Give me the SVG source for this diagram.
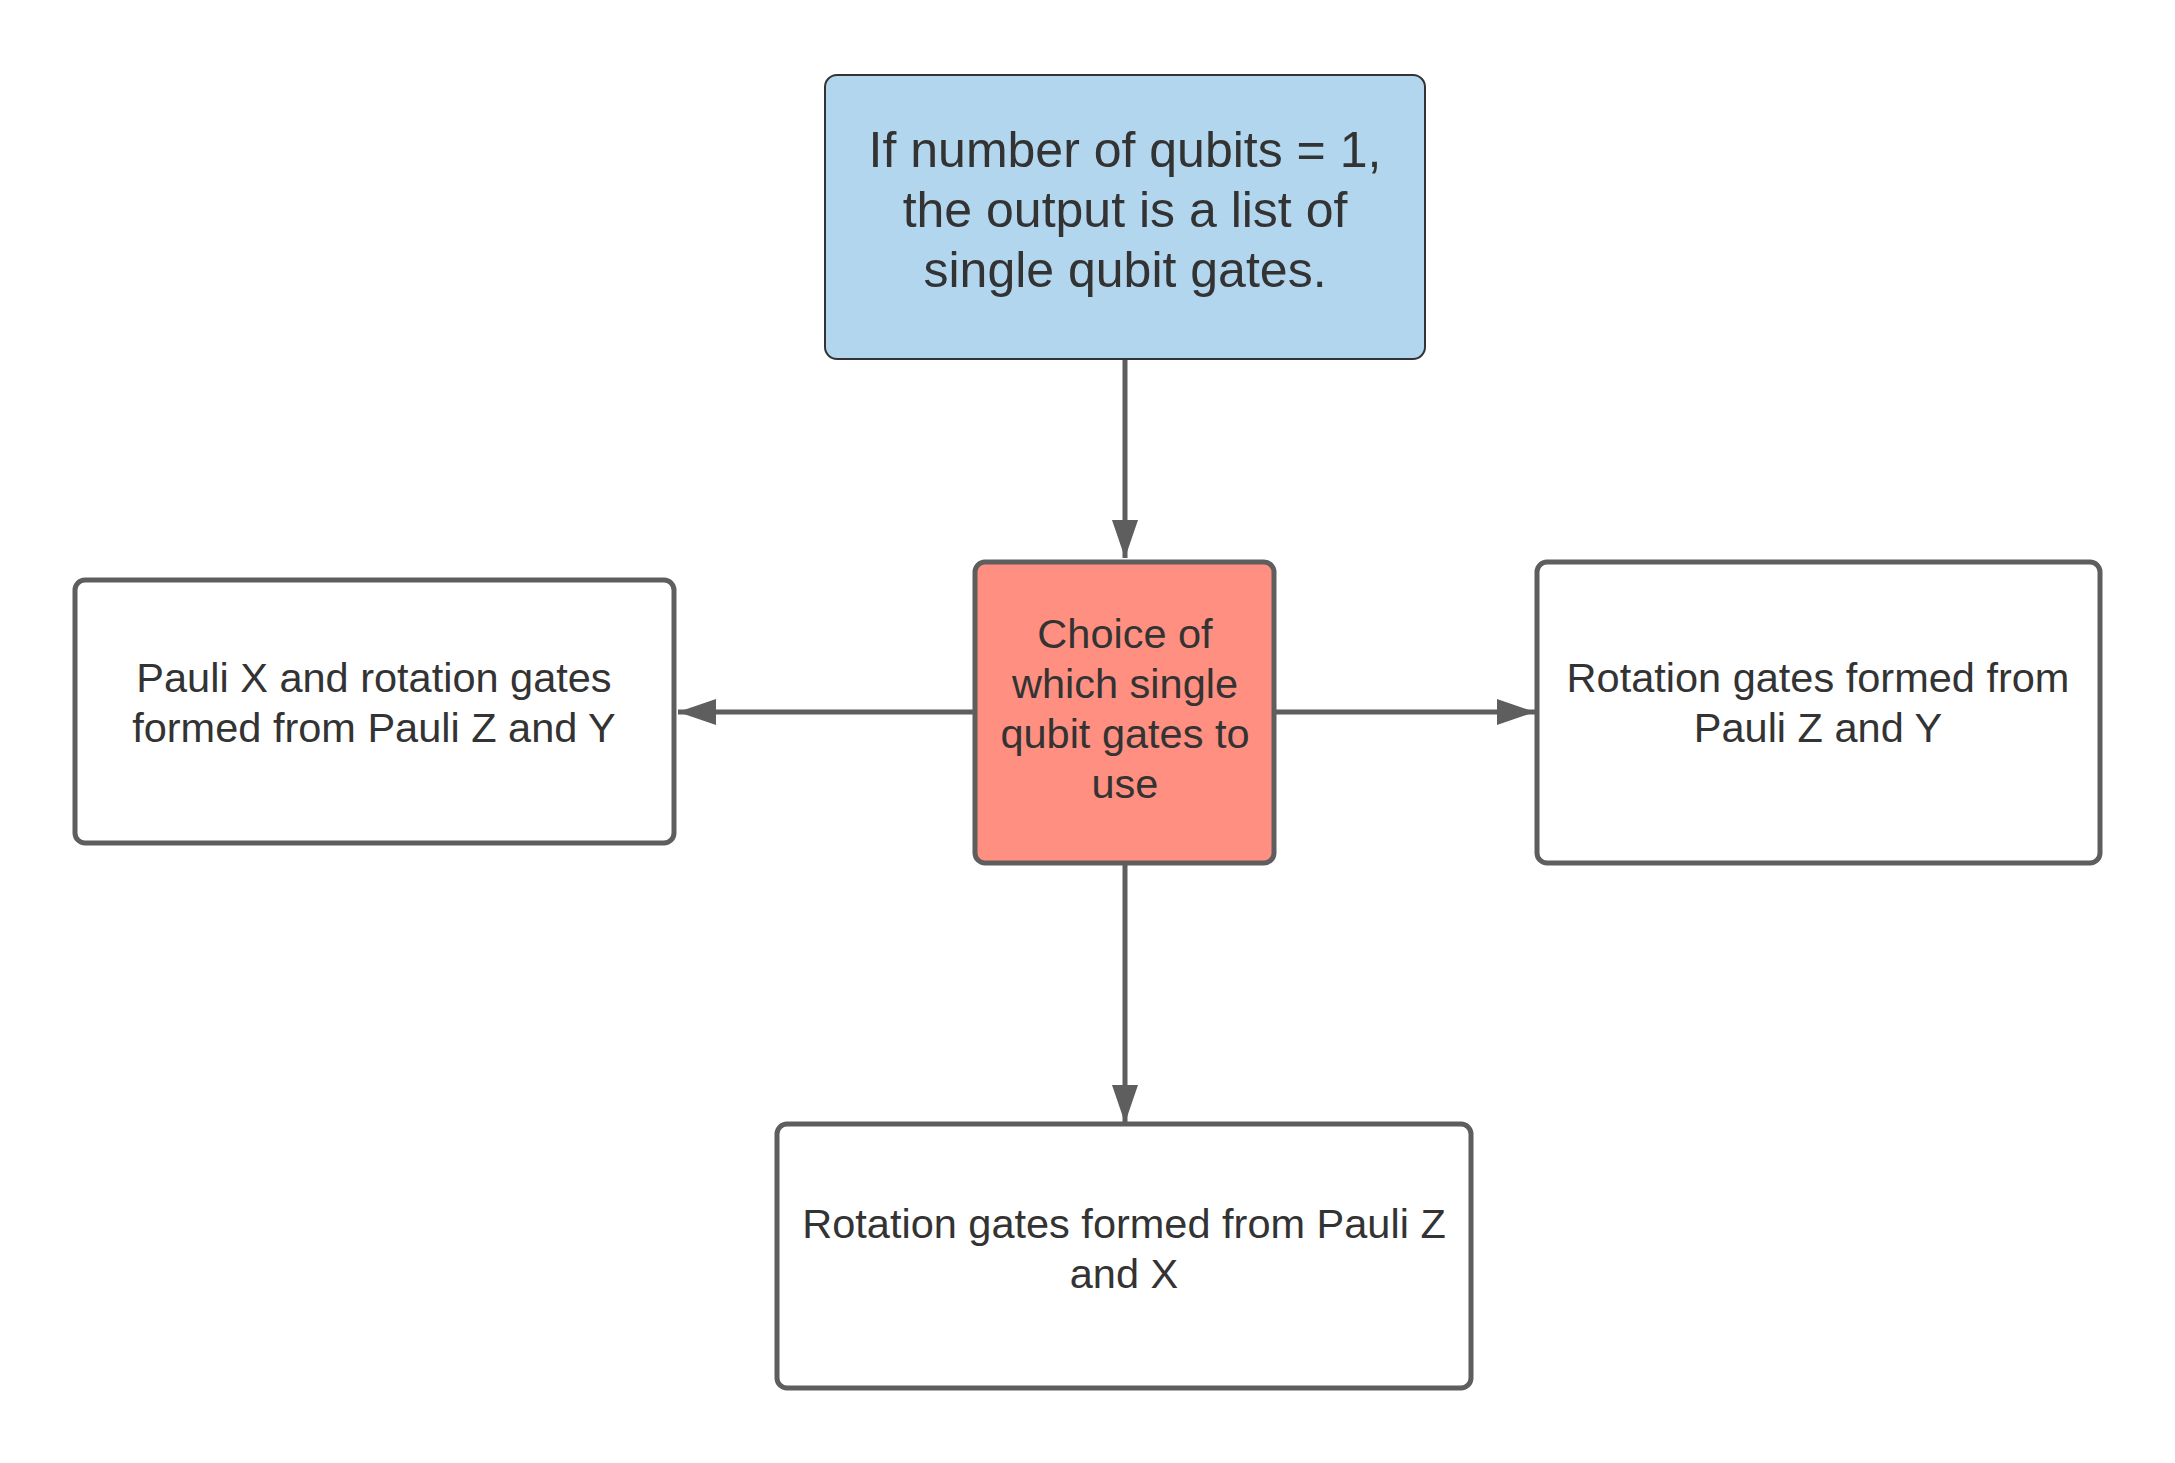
<svg xmlns="http://www.w3.org/2000/svg" width="2175" height="1463" viewBox="0 0 2175 1463">
<style>
.node{fill:#ffffff;stroke:#5e5e5e;stroke-width:5}
.t{font-family:"Liberation Sans",Arial,sans-serif;font-size:41.5px;fill:#333333;text-anchor:middle}
.tb{font-family:"Liberation Sans",Arial,sans-serif;font-size:50px;fill:#333333;text-anchor:middle}
.conn{stroke:#5e5e5e;stroke-width:5;fill:none}
</style>
<defs>
<marker id="arr" viewBox="0 0 38 26" refX="38" refY="13" markerWidth="38" markerHeight="26" markerUnits="userSpaceOnUse" orient="auto">
<path d="M0,0 L38,13 L0,26 Z" fill="#5e5e5e"/>
</marker>
</defs>
<rect width="2175" height="1463" fill="#ffffff"/>
<g id="connectors">
<line class="conn" x1="1125" y1="359" x2="1125" y2="558" marker-end="url(#arr)"/>
<line class="conn" x1="975" y1="712" x2="678" y2="712" marker-end="url(#arr)"/>
<line class="conn" x1="1274" y1="712" x2="1535" y2="712" marker-end="url(#arr)"/>
<line class="conn" x1="1125" y1="863" x2="1125" y2="1123" marker-end="url(#arr)"/>
</g>
<g id="node-top">
<rect x="825" y="75" width="600" height="284" rx="12" fill="#b3d6ef" stroke="#333333" stroke-width="2"/>
<text class="tb" x="1125" y="167">If number of qubits = 1,</text>
<text class="tb" x="1125" y="227">the output is a list of</text>
<text class="tb" x="1125" y="287">single qubit gates.</text>
</g>
<g id="node-center">
<rect class="node" x="975" y="562" width="299" height="301" rx="10" style="fill:#ff8f80"/>
<text class="t" x="1125" y="648">Choice of</text>
<text class="t" x="1125" y="698">which single</text>
<text class="t" x="1125" y="748">qubit gates to</text>
<text class="t" x="1125" y="798">use</text>
</g>
<g id="node-left">
<rect class="node" x="75" y="580" width="599" height="263" rx="10"/>
<text class="t" x="374" y="692">Pauli X and rotation gates</text>
<text class="t" x="374" y="742">formed from Pauli Z and Y</text>
</g>
<g id="node-right">
<rect class="node" x="1537" y="562" width="563" height="301" rx="10"/>
<text class="t" x="1818" y="692">Rotation gates formed from</text>
<text class="t" x="1818" y="742">Pauli Z and Y</text>
</g>
<g id="node-bottom">
<rect class="node" x="777" y="1124" width="694" height="264" rx="10"/>
<text class="t" x="1124" y="1238">Rotation gates formed from Pauli Z</text>
<text class="t" x="1124" y="1288">and X</text>
</g>
</svg>
